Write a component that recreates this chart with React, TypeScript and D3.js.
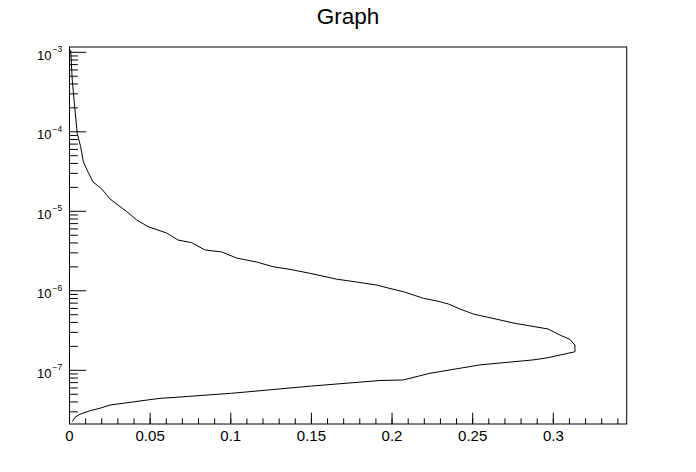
import * as React from "react";
import * as d3 from "d3";

// curve: upper branch top -> tip, then lower branch tip -> bottom
const upperX = [0.00074, 0.0017, 0.0034, 0.0048, 0.0069, 0.0086, 0.0115, 0.0146, 0.02, 0.0251, 0.0355, 0.0417, 0.0487, 0.0603, 0.0673, 0.0758, 0.084, 0.0944, 0.1037, 0.1161, 0.1262, 0.1367, 0.1491, 0.1657, 0.1781, 0.1905, 0.1987, 0.207, 0.2132, 0.2194, 0.2277, 0.2349, 0.2421, 0.2504, 0.2587, 0.2669, 0.275, 0.2967, 0.3041, 0.3103, 0.3134, 0.3134];
const upperY = [1.07e-3, 4.49e-4, 1.88e-4, 9.57e-5, 6.5e-5, 4.2e-5, 3.12e-5, 2.34e-5, 1.91e-5, 1.43e-5, 9.9e-6, 7.78e-6, 6.4e-6, 5.33e-6, 4.35e-6, 4.03e-6, 3.26e-6, 3.08e-6, 2.58e-6, 2.3e-6, 2.01e-6, 1.86e-6, 1.66e-6, 1.4e-6, 1.29e-6, 1.18e-6, 1.07e-6, 9.75e-7, 8.86e-7, 8.05e-7, 7.45e-7, 6.83e-7, 5.9e-7, 5.11e-7, 4.68e-7, 4.3e-7, 3.94e-7, 3.31e-7, 2.78e-7, 2.45e-7, 2.08e-7, 1.71e-7];
const lowerX = [0.2959, 0.2874, 0.2545, 0.2235, 0.2068, 0.1925, 0.1502, 0.1006, 0.0623, 0.0561, 0.0437, 0.0334, 0.0251, 0.0189, 0.0127, 0.0065, 0.0034, 0.0017];
const lowerY = [1.43e-7, 1.35e-7, 1.17e-7, 9.17e-8, 7.55e-8, 7.44e-8, 6.34e-8, 5.14e-8, 4.52e-8, 4.44e-8, 4.11e-8, 3.85e-8, 3.66e-8, 3.33e-8, 3.1e-8, 2.8e-8, 2.56e-8, 2.26e-8];

const xTicks = [0, 0.05, 0.1, 0.15, 0.2, 0.25, 0.3];
const xTickLabels = ["0", "0.05", "0.1", "0.15", "0.2", "0.25", "0.3"];
const yDecades = [-3, -4, -5, -6, -7];

const W = 696;
const H = 472;
const frame = { left: 69.5, right: 626.7, top: 47, bottom: 424 };
const xDomain: [number, number] = [0, 0.3455];
const yDomain: [number, number] = [Math.pow(10, -7.6755), Math.pow(10, -2.9333)];

const font = "'Liberation Sans', Arial, Helvetica, sans-serif";

export default function App() {
  const x = d3.scaleLinear().domain(xDomain).range([frame.left, frame.right]);
  const y = d3.scaleLog().domain(yDomain).range([frame.bottom, frame.top]);

  const pts: [number, number][] = [
    ...upperX.map((v, i) => [v, upperY[i]] as [number, number]),
    ...lowerX.map((v, i) => [v, lowerY[i]] as [number, number]),
  ];
  const line = d3.line<[number, number]>().x((d) => x(d[0])).y((d) => y(d[1]));

  // minor ticks
  const xMinor = d3.range(0, 35).map((i) => i * 0.01).filter((v) => v <= xDomain[1]);
  const yMinor: number[] = [];
  for (let d = -8; d <= -3; d++) {
    for (let k = 2; k <= 9; k++) {
      const v = k * Math.pow(10, d);
      if (v >= yDomain[0] && v <= yDomain[1]) yMinor.push(v);
    }
  }

  return (
    <svg width={W} height={H} style={{ position: "absolute", left: 0, top: 0, background: "#fff" }} fontFamily={font}>
      <rect x={0} y={0} width={W} height={H} fill="#fff" />
      <text x={W / 2} y={24} textAnchor="middle" fontSize={22.5}>Graph</text>

      {/* x axis ticks */}
      {xMinor.map((v, i) => (
        <line key={"xm" + i} x1={x(v)} x2={x(v)} y1={frame.bottom} y2={frame.bottom - 5.6} stroke="#000" />
      ))}
      {xTicks.map((v, i) => (
        <g key={"xt" + i}>
          <line x1={x(v)} x2={x(v)} y1={frame.bottom} y2={frame.bottom - 11.3} stroke="#000" />
          <text x={x(v)} y={441} textAnchor="middle" fontSize={15}>{xTickLabels[i]}</text>
        </g>
      ))}

      {/* y axis ticks */}
      {yMinor.map((v, i) => (
        <line key={"ym" + i} x1={frame.left} x2={frame.left + 8.4} y1={y(v)} y2={y(v)} stroke="#000" />
      ))}
      {yDecades.map((d) => {
        const py = y(Math.pow(10, d));
        return (
          <g key={"yt" + d}>
            <line x1={frame.left} x2={frame.left + 16.7} y1={py} y2={py} stroke="#000" />
            <text x={51.5} y={py + 7.3} textAnchor="end" fontSize={13}>10</text>
            <text x={52.5} y={py} textAnchor="start" fontSize={8.5}>{"\u2212" + -d}</text>
          </g>
        );
      })}

      <path d={line(pts) || ""} fill="none" stroke="#000" strokeWidth={1} />
      <rect x={frame.left} y={frame.top} width={frame.right - frame.left} height={frame.bottom - frame.top} fill="none" stroke="#000" strokeWidth={1} />
    </svg>
  );
}
